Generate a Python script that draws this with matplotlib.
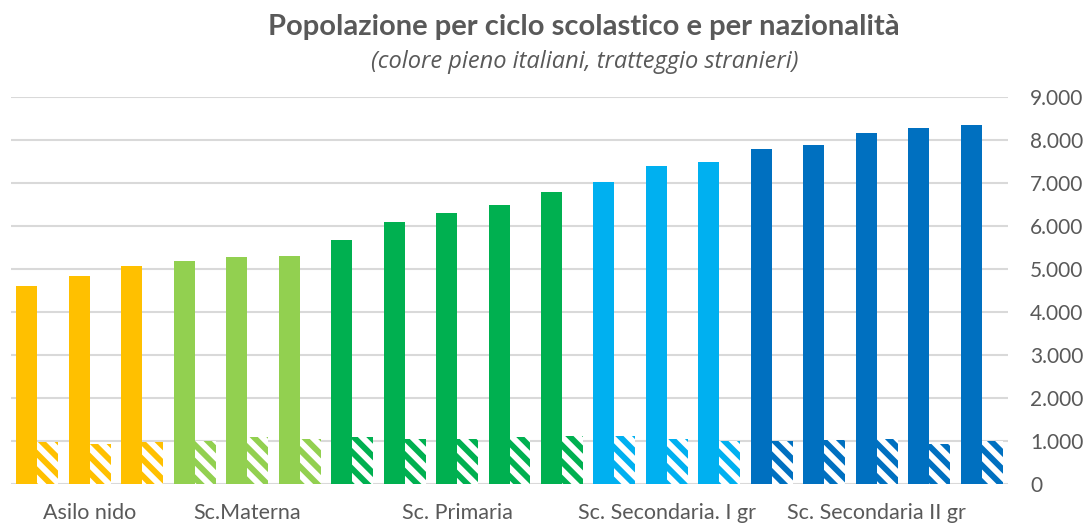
import matplotlib
matplotlib.use("Agg")
import matplotlib.pyplot as plt
from matplotlib.ticker import FuncFormatter
import numpy as np

# ---- data ----
tick_labels = ["", "Asilo nido", "", "", "Sc.Materna", "", "", "", "Sc. Primaria", "", "",
               "", "Sc. Secondaria. I gr", "", "", "", "Sc. Secondaria II gr", "", ""]
italiani = [4600, 4840, 5070, 5190, 5280, 5300, 5680, 6100, 6300, 6490, 6790,
            7020, 7400, 7490, 7790, 7880, 8160, 8280, 8350]
stranieri = [985, 935, 970, 1000, 1090, 1050, 1090, 1050, 1050, 1090, 1115,
             1115, 1050, 990, 1000, 1020, 1050, 935, 1000]
cycle_colors = ["#FFC000"] * 3 + ["#92D050"] * 3 + ["#00B050"] * 5 + ["#00B0F0"] * 3 + ["#0070C0"] * 5

title = "Popolazione per ciclo scolastico e per nazionalità"
subtitle = "(colore pieno italiani, tratteggio stranieri)"

plt.rcParams['font.family'] = ['Lato', 'DejaVu Sans']
plt.rcParams['hatch.linewidth'] = 4.2
text_col = "#595959"

W, H = 1091, 526
fig = plt.figure(figsize=(W / 100, H / 100), dpi=100)
ax = fig.add_axes([11 / W, 42 / H, (1008 - 11) / W, (484 - 97) / H])

x = np.arange(len(italiani))
bw = 0.4
ax.bar(x - bw / 2, italiani, width=bw, color=cycle_colors, linewidth=0, zorder=3)
ax.bar(x + bw / 2, stranieri, width=bw, facecolor="white", edgecolor=cycle_colors,
       hatch="\\\\", linewidth=0, zorder=3)

ax.set_xlim(-0.5, len(italiani) - 0.5)
ax.set_ylim(0, 9000)
ax.set_yticks(np.arange(0, 9001, 1000))
ax.yaxis.set_major_formatter(FuncFormatter(lambda v, p: f"{int(v):,}".replace(",", ".")))
ax.yaxis.tick_right()
ax.grid(axis="y", color="#d9d9d9", linewidth=1.5, zorder=0)
for s in ax.spines.values():
    s.set_visible(False)
ax.tick_params(axis="y", length=0, pad=16, labelsize=15, labelcolor=text_col)
ax.set_xticks(x)
ax.set_xticklabels(tick_labels)
ax.tick_params(axis="x", length=0, pad=14, labelsize=15.5, labelcolor=text_col)

fig.text(584 / W, 1 - 27 / H, title, ha="center", va="center", fontsize=21,
         fontweight="bold", color=text_col)
fig.text(585 / W, 1 - 62 / H, subtitle, ha="center", va="center", fontsize=17,
         style="italic", color=text_col, family=["Open Sans", "DejaVu Sans"])

fig.savefig("out.png", dpi=100)
